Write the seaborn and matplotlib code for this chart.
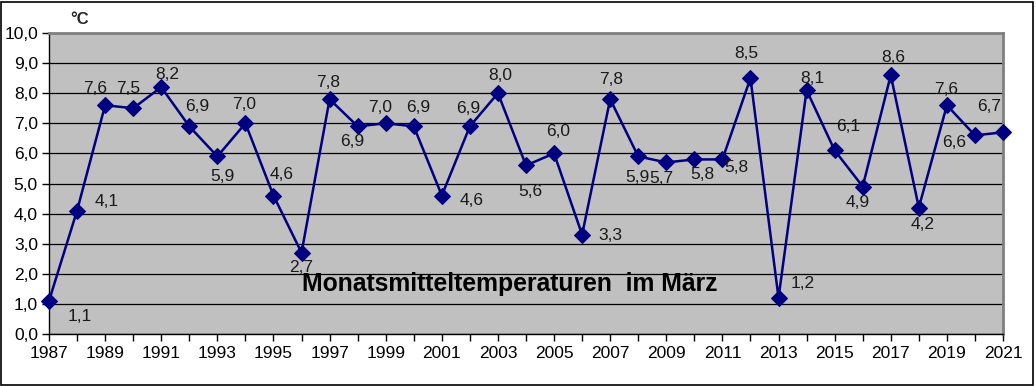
import matplotlib
matplotlib.use("Agg")
import matplotlib.pyplot as plt
import seaborn as sns
import pandas as pd
from matplotlib.patches import Rectangle
from matplotlib.ticker import MultipleLocator, FuncFormatter, FixedLocator

years = list(range(1987, 2022))
temps = [1.1, 4.1, 7.6, 7.5, 8.2, 6.9, 5.9, 7.0, 4.6, 2.7,
         7.8, 6.9, 7.0, 6.9, 4.6, 6.9, 8.0, 5.6, 6.0, 3.3,
         7.8, 5.9, 5.7, 5.8, 5.8, 8.5, 1.2, 8.1, 6.1, 4.9,
         8.6, 4.2, 7.6, 6.6, 6.7]
tick_years = years[::2]
title = "Monatsmitteltemperaturen  im März"
unit = "°C"

# label offsets in pixels (dx, dy with dy positive = down)
label_offsets = [(31, 16), (30, -9), (-10, -17), (-5, -20), (6, -13), (8, -20),
                 (5, 20), (-1, -19), (8, -21), (0, 15), (-1, -17), (-5, 15),
                 (-6, -16), (4, -19), (30, 5), (-2, -18), (2, -18), (4, 26),
                 (4, -22), (28, 1), (1, -20), (-1, 21), (-5, 16), (8, 15),
                 (14, 8), (-4, -25), (24, -14), (6, -12), (14, -24), (-5, 16),
                 (2, -18), (4, 17), (-1, -16), (-21, 7), (-14, -26)]

df = pd.DataFrame({"Jahr": years, "Temp": temps})

sns.set_theme(style="white")
plt.rcParams["font.family"] = ["Liberation Sans", "DejaVu Sans"]

fig = plt.figure(figsize=(10.36, 3.86), dpi=100)
ax = fig.add_axes([49 / 1036, 1 - 334 / 386, (1003 - 49) / 1036, (334 - 33) / 386])
ax.set_facecolor("#C0C0C0")

sns.lineplot(data=df, x="Jahr", y="Temp", ax=ax, color="#000080", lw=1.8,
             marker="D", markersize=8, markeredgecolor="#000080", zorder=3, clip_on=False)

ax.set_xlim(1987, 2021)
ax.set_ylim(0, 10)
ax.yaxis.set_major_locator(MultipleLocator(1))
ax.xaxis.set_major_locator(FixedLocator(tick_years))
ax.xaxis.set_minor_locator(MultipleLocator(1))
ax.xaxis.set_major_formatter(FuncFormatter(lambda v, p: f"{int(round(v))}"))
ax.yaxis.set_major_formatter(FuncFormatter(lambda v, p: f"{v:.1f}".replace(".", ",")))
ax.grid(axis="y", color="black", lw=0.9)
ax.set_axisbelow(True)
ax.tick_params(axis="both", which="both", direction="out", color="black", width=1,
               labelsize=12.5, labelcolor="black")
ax.tick_params(axis="both", which="major", length=5, bottom=True, left=True)
ax.tick_params(axis="x", which="minor", length=5, bottom=True)
ax.tick_params(axis="x", which="major", pad=4)
ax.tick_params(axis="y", which="major", pad=3)
ax.set_xlabel("")
ax.set_ylabel("")
for side in ["left", "bottom"]:
    ax.spines[side].set_color("black")
    ax.spines[side].set_linewidth(1)
for side in ["top", "right"]:
    ax.spines[side].set_color("#808080")
    ax.spines[side].set_linewidth(2)

for x, y, (dx, dy) in zip(years, temps, label_offsets):
    ax.annotate(f"{y:.1f}".replace(".", ","), (x, y), xytext=(dx * 0.72, -dy * 0.72),
                textcoords="offset points", ha="center", va="center",
                fontsize=12.5, color="#1a1a1a", zorder=4)

ax.text(0.483, 0.165, title, transform=ax.transAxes, ha="center", va="center",
        fontsize=17.8, fontweight="bold", color="black", zorder=5)
fig.text(80 / 1036, 1 - 20 / 386, unit, ha="center", va="center", fontsize=12, fontweight="bold")

fig.patches.append(Rectangle((1 / 1036, 1 / 386), 1032 / 1036, 383 / 386, transform=fig.transFigure,
                             fill=False, edgecolor="black", lw=1.2))

fig.savefig("out.png", dpi=100, facecolor="white")
